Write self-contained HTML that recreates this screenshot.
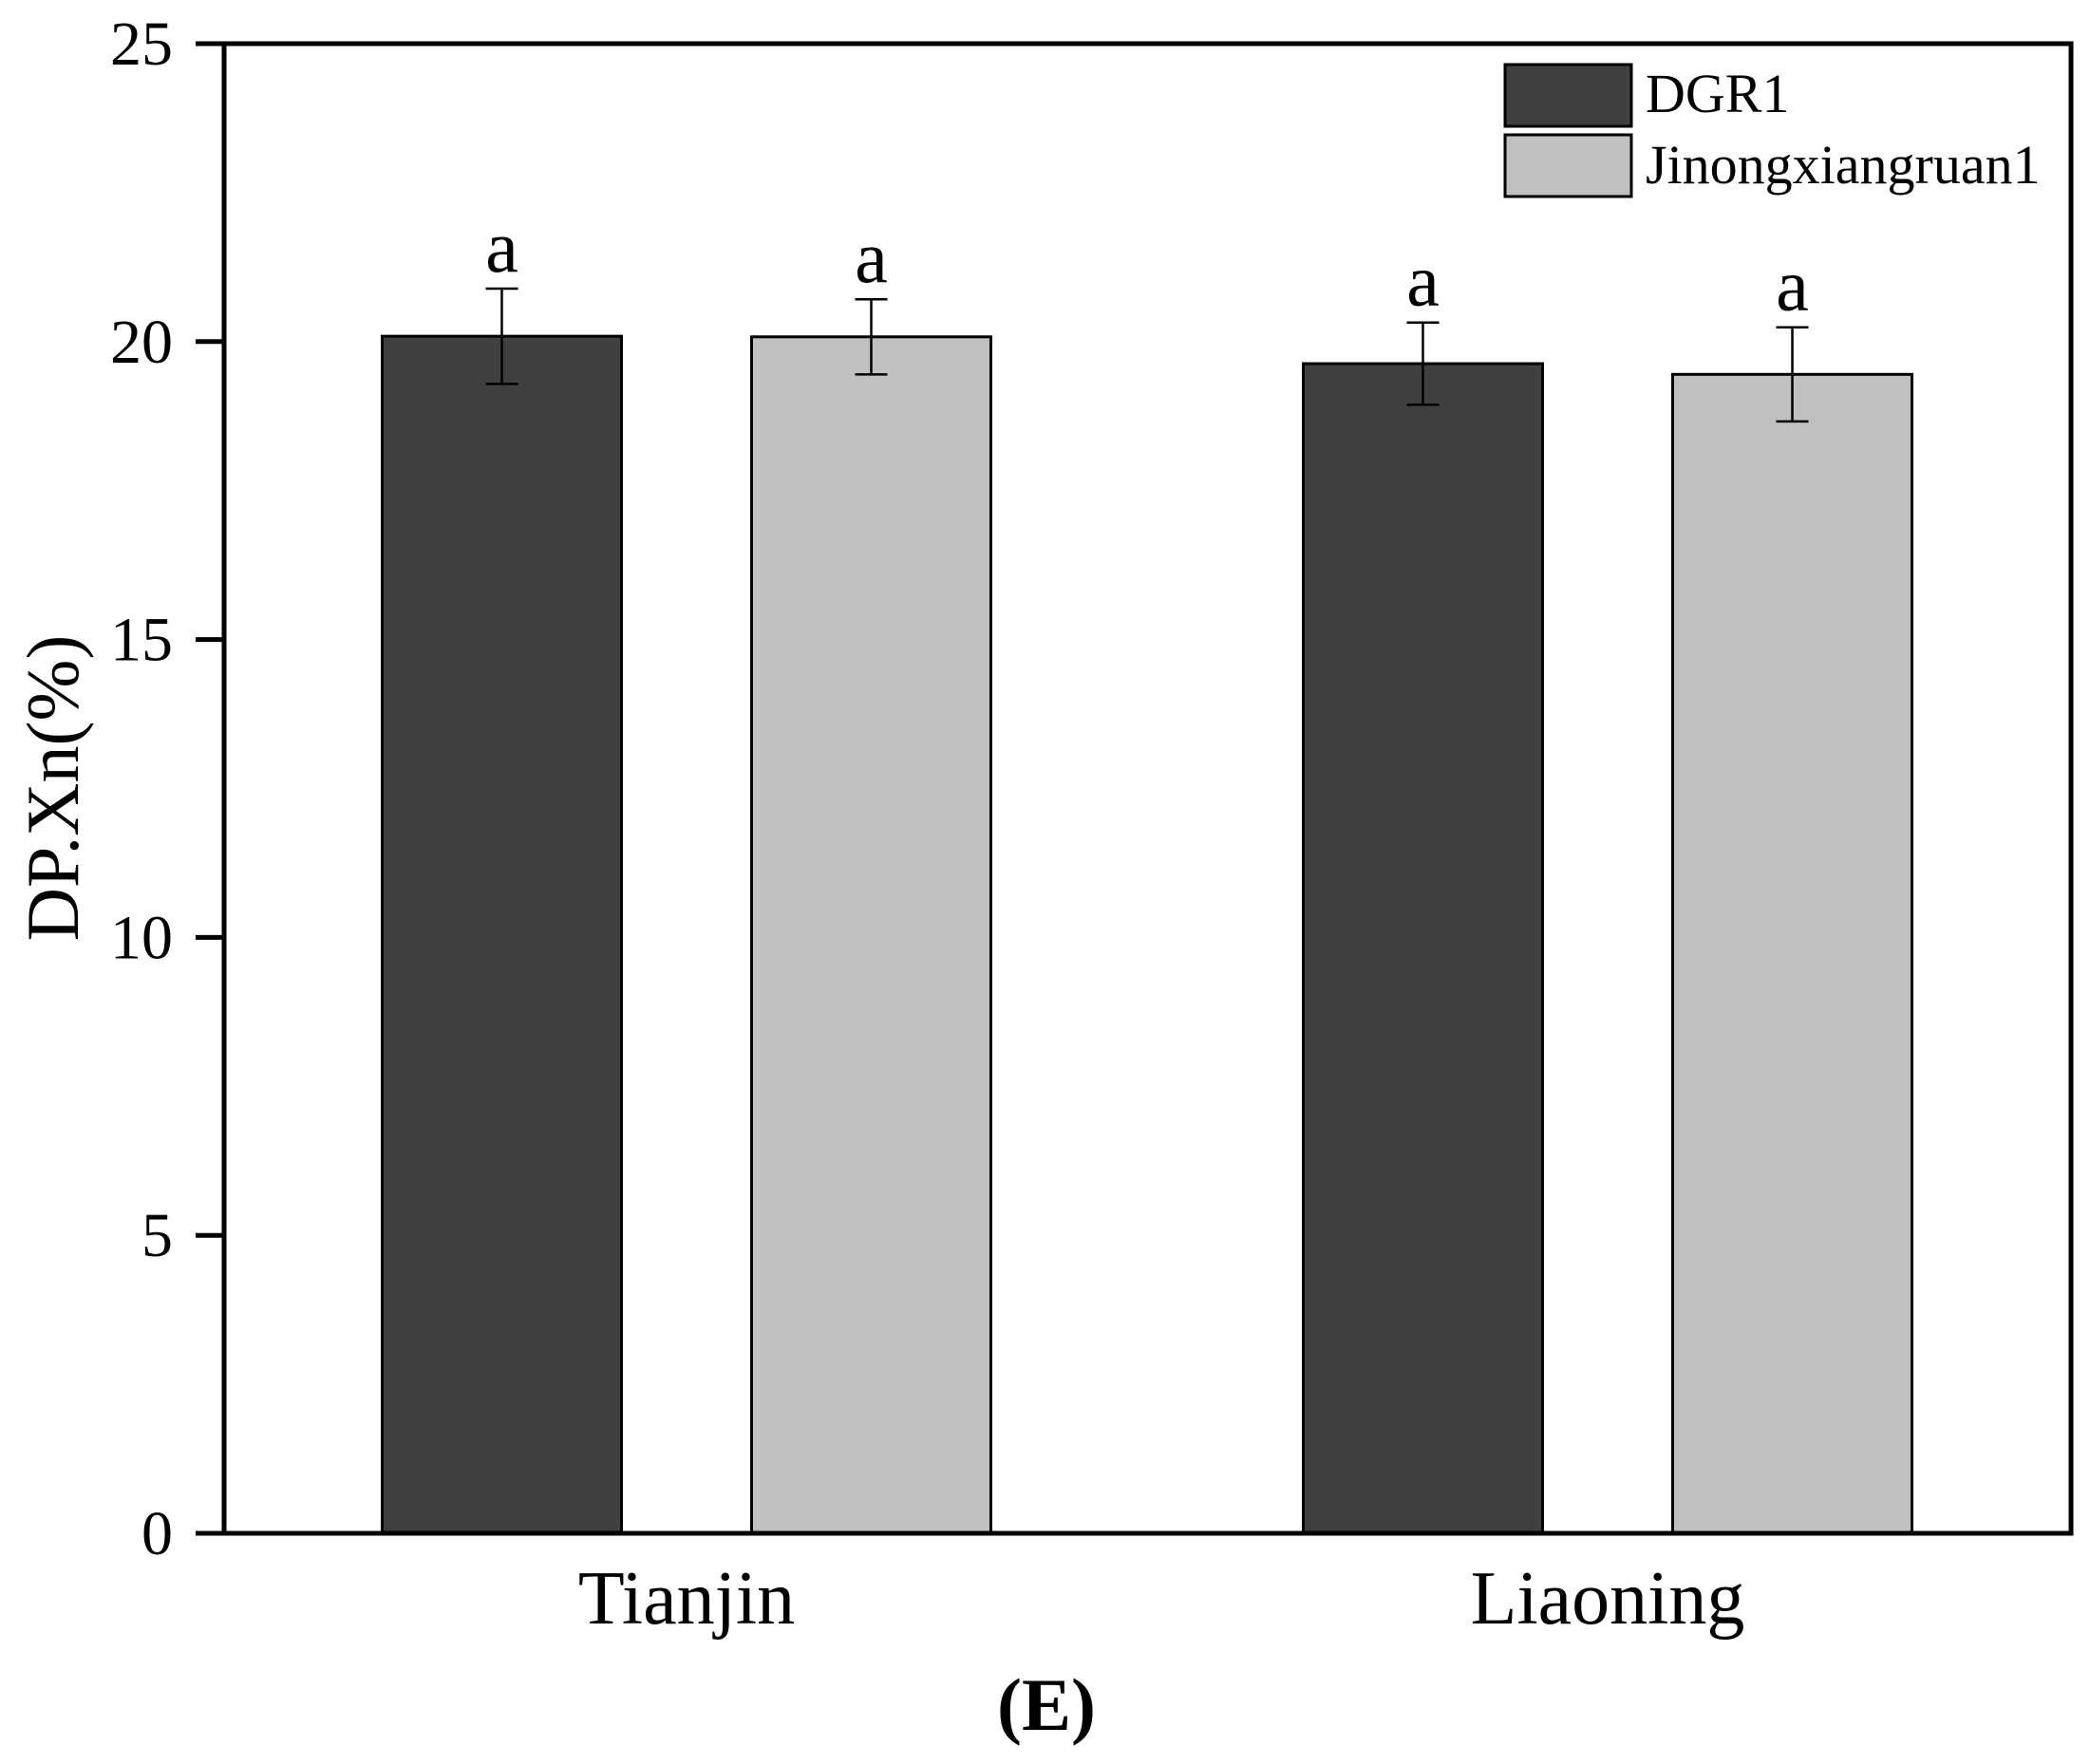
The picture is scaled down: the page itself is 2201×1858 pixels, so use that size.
<!DOCTYPE html>
<html><head><meta charset="utf-8"><style>
html,body{margin:0;padding:0;background:#fff;}
svg{display:block;font-family:"Liberation Serif",serif;}
</style></head><body>
<svg id="chart" width="2201" height="1858" viewBox="0 0 2201 1858"></svg>
<script>
const categories = ["Tianjin", "Liaoning"];
const seriesNames = ["DGR1", "Jinongxiangruan1"];
const dgr1Values = [20.09, 19.63];
const dgr1Errors = [0.80, 0.69];
const jinongValues = [20.08, 19.45];
const jinongErrors = [0.63, 0.79];
const sigLetters = [["a","a"],["a","a"]];
const yTicks = [0, 5, 10, 15, 20, 25];

const NS = "http://www.w3.org/2000/svg";
const svg = document.getElementById("chart");
const L = 236, R = 2181, T = 46, B = 1615, YMAX = 25;
function y(v){ return B - (v / YMAX) * (B - T); }
const groupCenters = [723, 1693];
const barW = 252, offsets = [-194.5, 194.5];
function x(ci, si){ return groupCenters[ci] + offsets[si]; }
function el(tag, attrs, parent){ const e=document.createElementNS(NS,tag); for(const k in attrs) e.setAttribute(k, attrs[k]); (parent||svg).appendChild(e); return e; }
const fills = ["#404040", "#c0c0c0"];
const vals = [dgr1Values, jinongValues], errs = [dgr1Errors, jinongErrors];

for (let si = 0; si < 2; si++) {
  for (let ci = 0; ci < categories.length; ci++) {
    const cx = x(ci, si), v = vals[si][ci], e = errs[si][ci];
    const r = el("rect", {x: cx - barW/2, y: y(v), width: barW, height: B - y(v), fill: fills[si], stroke: "#000", "stroke-width": 3});
    
    
    const g = el("g", {stroke: "#000", "stroke-width": 2.5});
    
    
    el("line", {x1: cx, x2: cx, y1: y(v + e), y2: y(v - e)}, g);
    el("line", {x1: cx - 17, x2: cx + 17, y1: y(v + e), y2: y(v + e)}, g);
    el("line", {x1: cx - 17, x2: cx + 17, y1: y(v - e), y2: y(v - e)}, g);
    const t = el("text", {x: cx, y: y(v + e) - 18, "text-anchor": "middle", "font-size": 78});
    t.textContent = sigLetters[ci][si];
    
    
  }
}

const frame = el("rect", {x: L, y: T, width: R - L, height: B - T, fill: "none", stroke: "#000", "stroke-width": 5});



yTicks.forEach(v => {
  const tk = el("line", {x1: 206, x2: L, y1: y(v), y2: y(v), stroke: "#000", "stroke-width": 5});
  
  
  const tl = el("text", {x: 182, y: y(v) + 22, "text-anchor": "end", "font-size": 66});
  tl.textContent = v;
  
  
});

categories.forEach((c, ci) => {
  const t = el("text", {x: groupCenters[ci], y: 1710, "text-anchor": "middle", "font-size": 80});
  t.textContent = c;
  
  
});
</script>
<script>
(function(){
const NS = "http://www.w3.org/2000/svg";
const svg = document.getElementById("chart");
function el(tag, attrs, parent){ const e=document.createElementNS(NS,tag); for(const k in attrs) e.setAttribute(k, attrs[k]); (parent||svg).appendChild(e); return e; }
const yt = el("text", {x: 0, y: 0, transform: "translate(82,830) rotate(-90)", "text-anchor": "middle", "font-size": 78});
yt.textContent = "DP.Xn(%)";


const pt = el("text", {x: 1102, y: 1822, "text-anchor": "middle", "font-size": 78, "font-weight": "bold"});
pt.textContent = "(E)";


const lg = el("g", {});


const s1 = el("rect", {x: 1585, y: 68, width: 133, height: 65, fill: "#404040", stroke: "#000", "stroke-width": 3}, lg);


const s2 = el("rect", {x: 1585, y: 142, width: 133, height: 65, fill: "#c0c0c0", stroke: "#000", "stroke-width": 3}, lg);


const t1 = el("text", {x: 1733, y: 118, "font-size": 58}, lg);
t1.textContent = "DGR1";


const t2 = el("text", {x: 1733, y: 193, "font-size": 58}, lg);
t2.textContent = "Jinongxiangruan1";


})();
</script>
</body></html>
